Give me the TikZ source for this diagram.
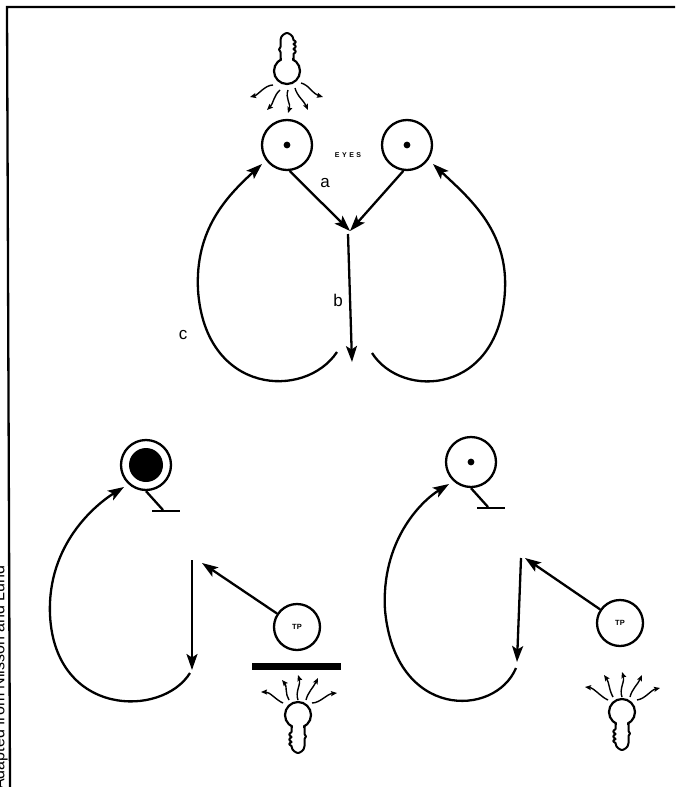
\documentclass[tikz,border=0pt]{standalone}
\usepackage{fontspec}
\setmainfont{Liberation Sans}
\usetikzlibrary{arrows.meta,calc}

% upright lamp: bulb below, wavy neck on top, centred on the bulb
\newcommand{\lampshape}{%
  \draw[line width=2.2pt] (0,0) circle (13pt);
  \fill[white] (-4.8,-16) rectangle (4.8,-9.5);
  \draw[line width=2pt, line join=round]
    (-6.5,-11) -- (-6.5,-19) .. controls (-8.5,-21.5) .. (-6.5,-24) -- (-6.5,-31)
    .. controls (-6.5,-36) and (-1,-38) .. (0,-38)
    .. controls (1,-38) and (6.5,-36) .. (6.5,-31)
    .. controls (9.5,-29) .. (6.5,-27) .. controls (9.5,-24.5) .. (6.5,-22)
    .. controls (9.5,-19.5) .. (6.5,-17) -- (6.5,-11);
}

\begin{document}
\begin{tikzpicture}[x=1pt,y=-1pt,
  ln/.style={line width=2.3pt},
  arr/.style={line width=2.3pt,-{Stealth[length=16pt,width=11pt,inset=3.5pt]}},
  ray/.style={line width=1.4pt,-{Stealth[length=6pt,width=5pt,inset=1pt]}},
  eyeball/.style={circle,draw,line width=2.3pt,minimum size=50pt,inner sep=0pt},
  tpball/.style={circle,draw,line width=2.3pt,minimum size=46pt,inner sep=0pt,
                 font=\fontsize{7.5}{8}\selectfont\bfseries},
  lab/.style={font=\fontsize{17}{17}\selectfont},
]
\useasboundingbox (0,0) rectangle (675,787);

% frame and credit line
\draw[ln] (10,787) -- (7,7) -- (675,7);
\node[rotate=90, anchor=base east, font=\fontsize{16}{16}\selectfont]
  (credit) at (4.5,562) {Adapted from Nilsson and Lund};

% ---------------- top: two eyes ----------------
\begin{scope}[shift={(287,71)}] \lampshape \end{scope}
\draw[ray] (273,85) .. controls (265,85) and (258,95) .. (250,97);
\draw[ray] (280,90) .. controls (274,95) and (273,104) .. (267,110);
\draw[ray] (288,90) .. controls (285,98) and (291,104) .. (288,113);
\draw[ray] (295,88) .. controls (297,96) and (304,101) .. (308,110);
\draw[ray] (301,83) .. controls (309,85) and (313,94) .. (323,97);

\node[eyeball] (eyeL) at (287,145) {};
\node[eyeball] (eyeR) at (407,145) {};
\fill (eyeL) circle (3.4pt);
\fill (eyeR) circle (3.4pt);
\node[font=\fontsize{7}{7}\selectfont\bfseries] (eyes) at (348,155)
  {E\hspace{2.5pt}Y\hspace{2.5pt}E\hspace{2.5pt}S};

\coordinate (j) at (350,231);
\draw[arr] (eyeL.-84) -- (j);
\draw[arr] (eyeR.-98) -- (j);
\node[lab] (la) at (325,183) {a};

\coordinate (bt) at (348,234);
\coordinate (bb) at (352,362);
\draw[arr] (bt) -- (bb);
\node[lab] (lb) at (338,300) {b};

\coordinate (cl0) at (337,352);
\coordinate (cl1) at (262,164);
\draw[arr] (cl0) .. controls (305,400) and (205,395) .. (198,290)
                 .. controls (195,230) and (226,197) .. (cl1);
\node[lab] (lc) at (183,335) {c};

\coordinate (cr0) at (372,353);
\coordinate (cr1) at (433,164);
\draw[arr] (cr0) .. controls (402,400) and (500,395) .. (505,290)
                 .. controls (508,230) and (468,197) .. (cr1);

% ---------------- bottom left: covered eye ----------------
\node[eyeball] (eyeF) at (146,465) {};
\fill (eyeF) circle (17pt);
\coordinate (tf1) at (163,510);
\coordinate (tfa) at (152,511);
\coordinate (tfb) at (180,511);
\draw[ln] (eyeF.south) -- (tf1);
\draw[ln] (tfa) -- (tfb);

\coordinate (vlT) at (192,560);
\coordinate (vlB) at (192,670);
\draw[arr] (vlT) -- (vlB);

\coordinate (fl0) at (190,673);
\coordinate (fl1) at (124,487);
\draw[arr] (fl0) .. controls (162,718) and (55,717) .. (50,615)
                 .. controls (47,545) and (95,505) .. (fl1);

\node[tpball] (tpL) at (297,627) {TP};
\coordinate (tpLt) at (202,563);
\draw[arr] (tpL) -- (tpLt);

\fill (252,663) rectangle (341,670);

\begin{scope}[shift={(298,715)}, rotate=180] \lampshape \end{scope}
\draw[ray] (283,703) .. controls (276,700) and (270,692) .. (261,692);
\draw[ray] (289,700) .. controls (285,694) and (287,686) .. (282,680);
\draw[ray] (298,700) .. controls (295,692) and (301,684) .. (298,675);
\draw[ray] (306,700) .. controls (308,692) and (313,688) .. (318,678);
\draw[ray] (312,703) .. controls (320,703) and (327,694) .. (337,693);

% ---------------- bottom right: open eye ----------------
\node[eyeball] (eyeB) at (471,462) {};
\fill (eyeB) circle (3.4pt);
\coordinate (tb1) at (488,507);
\coordinate (tba) at (477,508);
\coordinate (tbb) at (505,508);
\draw[ln] (eyeB.south) -- (tb1);
\draw[ln] (tba) -- (tbb);

\coordinate (vrT) at (521,558);
\coordinate (vrB) at (517,662);
\draw[arr] (vrT) -- (vrB);

\coordinate (rl0) at (516,668);
\coordinate (rl1) at (449,484);
\draw[arr] (rl0) .. controls (495,718) and (395,720) .. (385,610)
                 .. controls (381,542) and (420,502) .. (rl1);

\node[tpball] (tpR) at (620,623) {TP};
\coordinate (tpRt) at (525,558);
\draw[arr] (tpR) -- (tpRt);

\begin{scope}[shift={(622,712)}, rotate=180] \lampshape \end{scope}
\draw[ray] (608,700) .. controls (601,697) and (594,688) .. (585,687);
\draw[ray] (613,697) .. controls (609,690) and (609,682) .. (604,675);
\draw[ray] (622,697) .. controls (619,689) and (625,681) .. (622,672);
\draw[ray] (630,697) .. controls (632,689) and (638,684) .. (642,675);
\draw[ray] (637,700) .. controls (645,699) and (651,690) .. (660,688);
\end{tikzpicture}
\end{document}
